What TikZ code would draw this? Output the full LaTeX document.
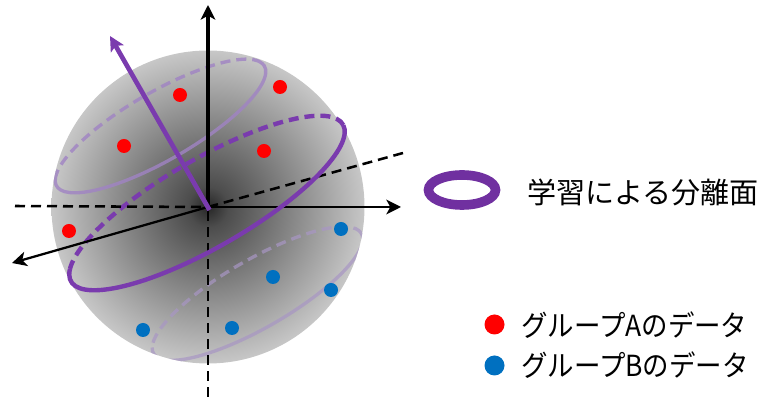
\documentclass[tikz,border=0pt]{standalone}
\usepackage{fontspec}
\usetikzlibrary{arrows.meta,positioning,shapes.geometric}
\newfontfamily\cjk{Noto Sans CJK JP}
\newfontfamily\cjknarrow[FakeStretch=0.91]{Noto Sans CJK JP}
\definecolor{ringpurple}{HTML}{7A3BAE}
\definecolor{paleupper}{HTML}{A083C4}
\definecolor{palelower}{HTML}{A896C4}
\definecolor{legendpurple}{HTML}{7030A0}
\definecolor{groupred}{HTML}{FF0000}
\definecolor{groupblue}{HTML}{0070C0}
\pgfdeclareradialshading{ballfade}{\pgfpoint{0bp}{0bp}}{%
  color(0bp)=(black!85);
  color(3.2bp)=(black!70);
  color(25bp)=(black!22);
  color(50bp)=(black!22)}

\begin{document}
\begin{tikzpicture}[
      x=0.75pt, y=0.75pt,
      ball/.style={
        circle,
        inner sep=0pt,
        minimum size=234.75pt,
        shading=ballfade
      },
      dot/.style={circle, inner sep=0pt, minimum size=10.5pt},
      reddot/.style={dot, fill=groupred},
      bluedot/.style={dot, fill=groupblue},
      keydot/.style={circle, inner sep=0pt, minimum size=15pt},
      axis/.style={-{Stealth[length=11pt, width=11pt, inset=3pt]}, black},
      axisdash/.style={black, line width=1.9pt, dash pattern=on 7.5pt off 4.5pt},
      ringline/.style={ringpurple, line width=3.3pt},
      ringdash/.style={ringline, dash pattern=on 7.5pt off 4.5pt},
      paleline/.style={line width=2.5pt},
      paledash/.style={paleline, dash pattern=on 7.5pt off 4.5pt},
      keytext/.style={anchor=west, inner sep=0pt, font=\fontsize{21.8}{24}\cjk},
      groupkey/.style={anchor=west, inner sep=0pt, font=\fontsize{21.8}{24}\cjknarrow}
    ]
      \useasboundingbox (0,0) rectangle (764,399);

      % Sphere
      \node[ball] (ball) at (208,192) {};

      % Upper and lower rings
      \begin{scope}
        \clip (208,192) circle (156.5);
        \begin{scope}[shift={(160.5,273)}, rotate=30, paleupper, opacity=0.8]
          \draw[paleline] (161:120 and 34) arc[start angle=161, end angle=367, x radius=120, y radius=34];
          \draw[paledash] (7:120 and 34) arc[start angle=7, end angle=161, x radius=120, y radius=34];
        \end{scope}
        \begin{scope}[shift={(257.5,105.5)}, rotate=30, palelower, opacity=0.7]
          \draw[paleline] (170:120 and 34) arc[start angle=170, end angle=360, x radius=120, y radius=34];
          \draw[paledash] (0:120 and 34) arc[start angle=0, end angle=170, x radius=120, y radius=34];
        \end{scope}
      \end{scope}

      % Group A
      \node[reddot] (a1) at (180,304) {};
      \node[reddot] (a2) at (280,312) {};
      \node[reddot] (a3) at (124,253) {};
      \node[reddot] (a4) at (264,248) {};
      \node[reddot] (a5) at (69,168) {};

      % Group B
      \node[bluedot] (b1) at (341,170) {};
      \node[bluedot] (b2) at (273,122) {};
      \node[bluedot] (b3) at (331,109) {};
      \node[bluedot] (b4) at (232,71) {};
      \node[bluedot] (b5) at (143,69) {};

      % Axis ends
      \coordinate (origin) at (208,192);
      \coordinate (ztip) at (208,394);
      \coordinate (ztail) at (208,2);
      \coordinate (xtip) at (401,192);
      \coordinate (xtail) at (15,193);
      \coordinate (ytip) at (12,136);
      \coordinate (ytail) at (403,246);
      \coordinate (normalroot) at (209.5,189);
      \coordinate (normaltip) at (110,363);

      % Back of the middle ring
      \begin{scope}[shift={(207,196)}, rotate=30]
        \draw[ringdash] (-1:157 and 44) arc[start angle=-1, end angle=165, x radius=157, y radius=44];
      \end{scope}

      % Axes
      \draw[axisdash] (xtail) -- (origin);
      \draw[axisdash] (ztail) -- (origin);
      \draw[axisdash] (ytail) -- (origin);
      \draw[axis, line width=2.5pt] (origin) -- (ztip);
      \draw[axis, line width=1.7pt] (origin) -- (xtip);
      \draw[axis, line width=1.7pt] (origin) -- (ytip);

      % Normal and front of the middle ring
      \draw[-{Stealth[length=11pt, width=11pt, inset=2.5pt]}, ringpurple, line width=3.5pt] (normalroot) -- (normaltip);
      \begin{scope}[shift={(207,196)}, rotate=30]
        \draw[ringline] (165:157 and 44) arc[start angle=165, end angle=359, x radius=157, y radius=44];
      \end{scope}

      % Legend
      \node[ellipse, draw=legendpurple, line width=7.2pt, minimum width=50.25pt, minimum height=22.5pt, inner sep=0pt] (keyring) at (462,209) {};
      \node[keytext] (keyringtext) at (527,207) {学習による分離面};
      \node[keydot, fill=groupred] (keya) at (494.5,74.5) {};
      \node[keydot, fill=groupblue] (keyb) at (494.5,33.5) {};
      \node[groupkey] (keyatext) at (521,74) {グループAのデータ};
      \node[groupkey] (keybtext) at (521,34) {グループBのデータ};
\end{tikzpicture}
\end{document}
